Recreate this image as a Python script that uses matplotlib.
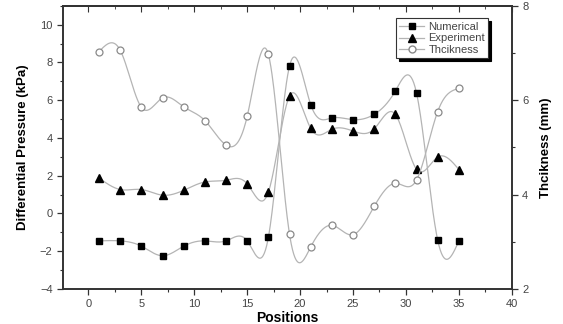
import numpy as np
import matplotlib
matplotlib.use("Agg")
import matplotlib.pyplot as plt
from matplotlib.lines import Line2D
from matplotlib.ticker import MultipleLocator

plt.rcParams['font.family'] = ['Liberation Sans', 'DejaVu Sans']

positions = [1, 3, 5, 7, 9, 11, 13, 15, 17, 19, 21, 23, 25, 27, 29, 31, 33, 35]
numerical = [-1.45, -1.45, -1.73, -2.24, -1.73, -1.45, -1.45, -1.45, -1.27,
             7.81, 5.77, 5.06, 4.97, 5.25, 6.49, 6.38, -1.41, -1.45]
experiment = [1.88, 1.27, 1.27, 0.97, 1.23, 1.67, 1.76, 1.57, 1.13,
              6.22, 4.51, 4.46, 4.37, 4.48, 5.25, 2.34, 2.99, 2.33]
thickness = [7.03, 7.06, 5.85, 6.05, 5.86, 5.57, 5.05, 5.66, 6.97,
             3.16, 2.89, 3.35, 3.15, 3.75, 4.24, 4.31, 5.76, 6.25]


def spline(x, y, n=600):
    # natural cubic spline, just for the smooth connecting line
    x = np.asarray(x, float)
    y = np.asarray(y, float)
    h = np.diff(x)
    m = len(x)
    A = np.zeros((m, m))
    b = np.zeros(m)
    A[0, 0] = A[-1, -1] = 1
    for i in range(1, m - 1):
        A[i, i - 1] = h[i - 1]
        A[i, i] = 2 * (h[i - 1] + h[i])
        A[i, i + 1] = h[i]
        b[i] = 3 * ((y[i + 1] - y[i]) / h[i] - (y[i] - y[i - 1]) / h[i - 1])
    c = np.linalg.solve(A, b)
    bb = (y[1:] - y[:-1]) / h - h * (2 * c[:-1] + c[1:]) / 3
    d = (c[1:] - c[:-1]) / (3 * h)
    xs = np.linspace(x[0], x[-1], n)
    idx = np.clip(np.searchsorted(x, xs) - 1, 0, m - 2)
    dx = xs - x[idx]
    ys = y[idx] + bb[idx] * dx + c[idx] * dx ** 2 + d[idx] * dx ** 3
    return xs, ys


line_c = '#b4b4b4'
fig = plt.figure(figsize=(5.63, 3.24), dpi=100)
ax = fig.add_axes([0.112, 0.108, 0.797, 0.874])
ax2 = ax.twinx()

xs, ys = spline(positions, numerical)
ax.plot(xs, ys, color=line_c, lw=0.9, zorder=2)
ax.plot(positions, numerical, ls='none', marker='s', ms=4.5, color='black', zorder=3)
xs, ys = spline(positions, experiment)
ax.plot(xs, ys, color=line_c, lw=0.9, zorder=2)
ax.plot(positions, experiment, ls='none', marker='^', ms=5.5, color='black', zorder=3)
xs, ys = spline(positions, thickness)
ax2.plot(xs, ys, color=line_c, lw=0.9, zorder=2)
ax2.plot(positions, thickness, ls='none', marker='o', ms=5, mfc='white',
         mec='#8a8a8a', mew=0.9, zorder=3)

ax.set_xlim(-2.4, 40)
ax.set_ylim(-4, 11)
ax2.set_ylim(2, 8)
ax.xaxis.set_major_locator(MultipleLocator(5))
ax.xaxis.set_minor_locator(MultipleLocator(2.5))
ax.yaxis.set_major_locator(MultipleLocator(2))
ax.yaxis.set_minor_locator(MultipleLocator(1))
ax2.yaxis.set_major_locator(MultipleLocator(2))
ax2.yaxis.set_minor_locator(MultipleLocator(1))

top = ax.secondary_xaxis('top')
top.xaxis.set_major_locator(MultipleLocator(5))
top.xaxis.set_minor_locator(MultipleLocator(2.5))
top.tick_params(which='both', direction='in', labeltop=False, color='#333333')
top.tick_params(which='major', length=4)
top.tick_params(which='minor', length=2.5)

for a in (ax, ax2):
    a.tick_params(which='major', direction='out', length=4, width=0.9,
                  color='#333333', labelsize=8, labelcolor='#444444')
    a.tick_params(which='minor', direction='out', length=2.5, width=0.8, color='#333333')
for a in (ax, ax2, top):
    for s in a.spines.values():
        s.set_linewidth(1.2)
        s.set_color('#333333')

ax.set_ylabel('Differential Pressure (kPa)', fontsize=9.5, fontweight='bold', labelpad=8)
ax2.set_ylabel('Thcikness (mm)', fontsize=9.5, fontweight='bold', labelpad=8)
ax.set_xlabel('Positions', fontsize=10, fontweight='bold', labelpad=1)

handles = [
    Line2D([], [], color=line_c, lw=0.9, marker='s', ms=4.5, mfc='black', mec='black'),
    Line2D([], [], color=line_c, lw=0.9, marker='^', ms=5.5, mfc='black', mec='black'),
    Line2D([], [], color=line_c, lw=0.9, marker='o', ms=5, mfc='white', mec='#8a8a8a'),
]
leg = ax2.legend(handles, ['Numerical', 'Experiment', 'Thcikness'], loc='upper right',
                 bbox_to_anchor=(0.96, 0.975), fontsize=8, frameon=True, fancybox=False,
                 shadow={'color': 'black', 'alpha': 1}, handlelength=2.2,
                 borderpad=0.3, labelspacing=0.15, handletextpad=0.4,
                 framealpha=1, edgecolor='#333333')
leg.get_frame().set_linewidth(0.8)
for t in leg.get_texts():
    t.set_color('#444444')

fig.savefig('out.png', dpi=100)
